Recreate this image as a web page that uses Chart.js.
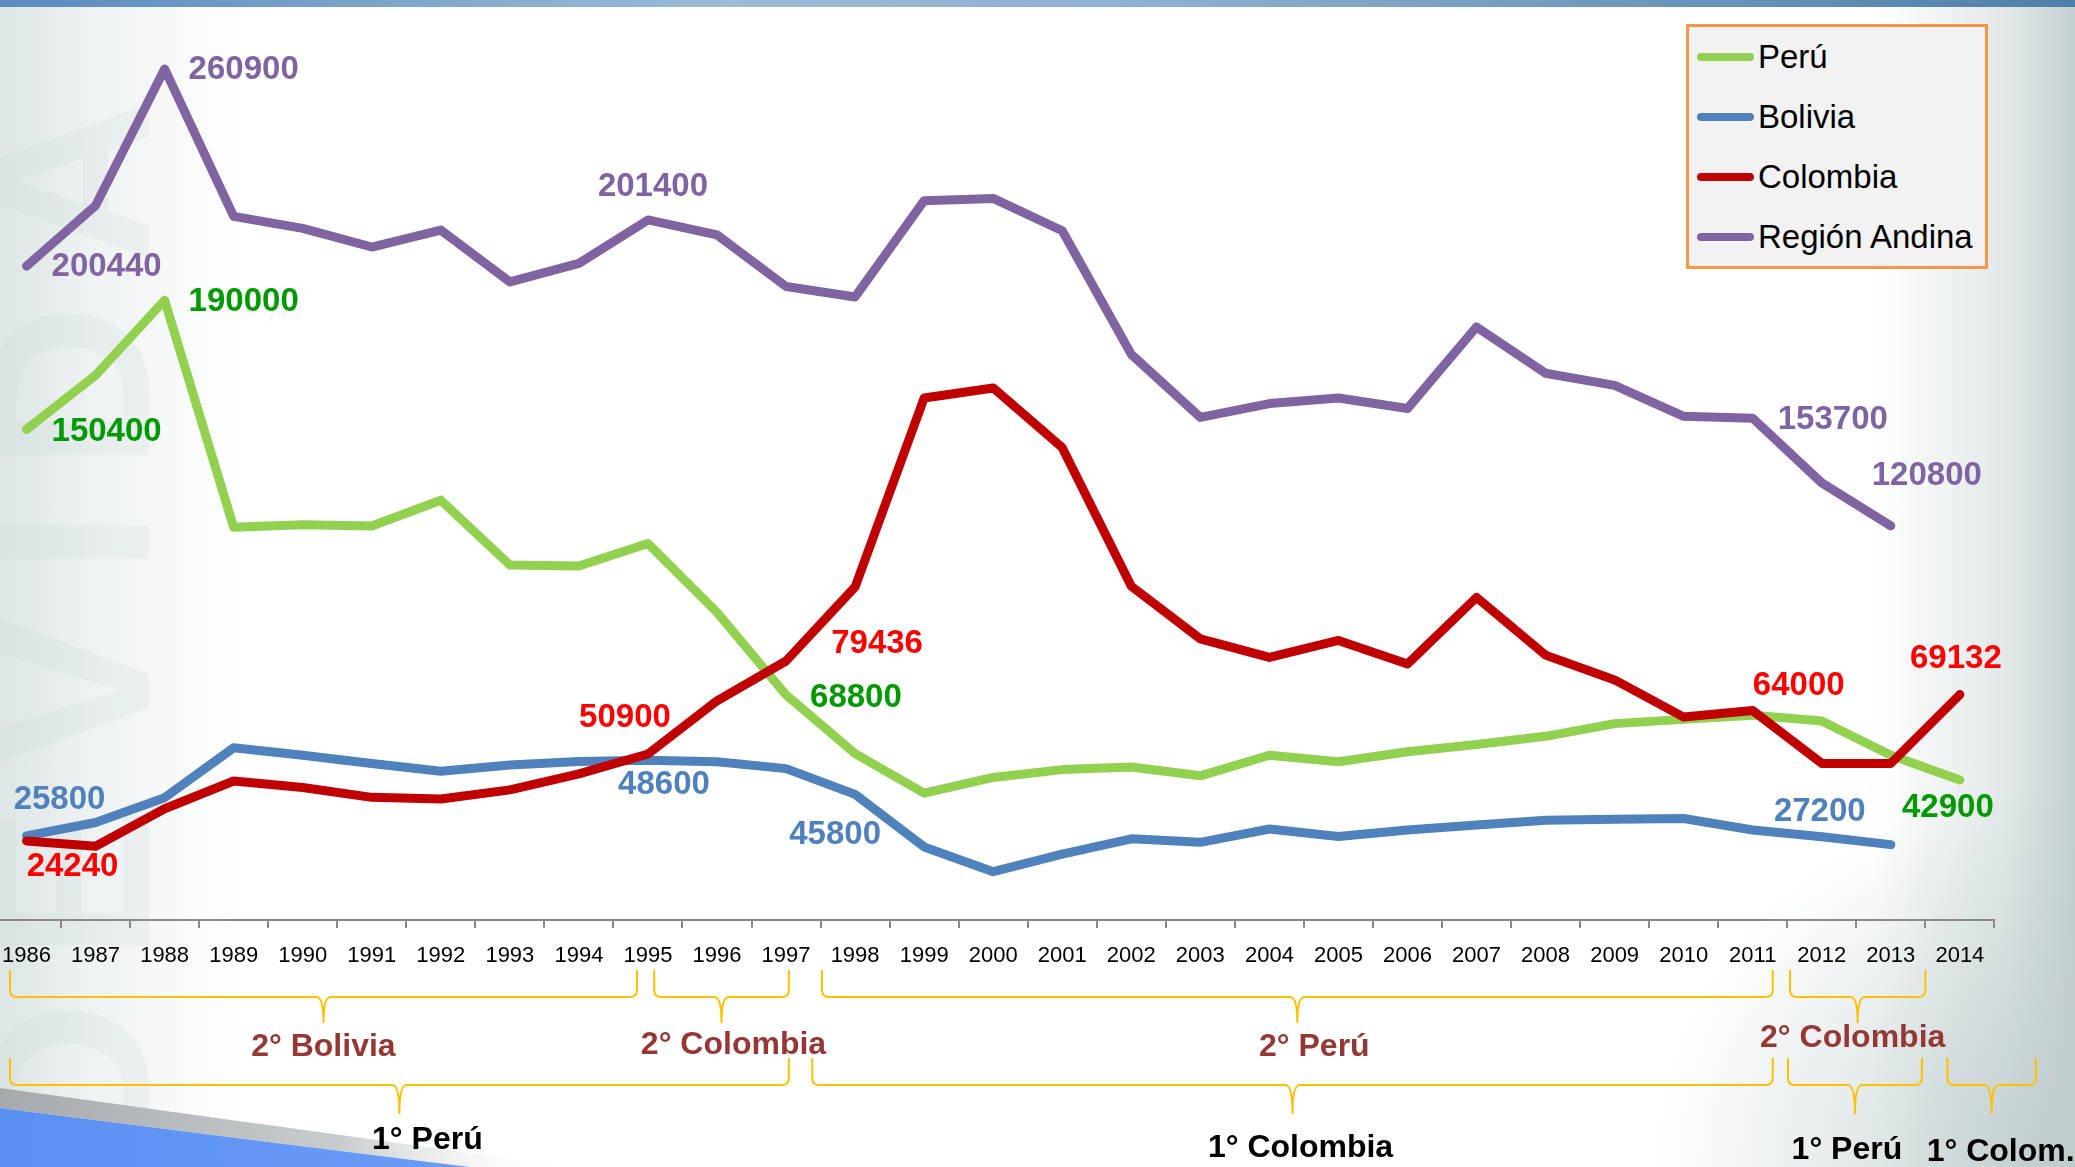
<!DOCTYPE html>
<html>
<head>
<meta charset="utf-8">
<script src="https://cdn.jsdelivr.net/npm/chart.js@4.4.1/dist/chart.umd.min.js"></script>
<style>
    html, body { margin: 0; padding: 0; }
    body {
        width: 2075px; height: 1167px; overflow: hidden; position: relative;
        background: #ffffff; font-family: "Liberation Sans", Arial, sans-serif;
    }
    .bg { position: absolute; left: 0; top: 0; width: 2075px; height: 1167px; }
    #topBar {
        position: absolute; left: 0; top: 0; width: 2075px; height: 7px;
        background: linear-gradient(to right, #5a8bbb 0%, #9bbcd8 35%, #8fb1d0 55%, #4e80aa 100%);
    }
    #watermark {
        position: absolute; left: 0; top: 0; width: 1167px; height: 200px;
        transform-origin: 0 0; transform: translate(-30px, 1167px) rotate(-90deg);
        font: bold 230px "Liberation Sans", Arial, sans-serif; letter-spacing: 40px;
        color: rgba(196, 214, 212, 0.2); line-height: 200px; white-space: nowrap;
    }
    #chartCanvas { position: absolute; left: -8px; top: 0; }
    #legend {
        position: absolute; left: 1686px; top: 24px; width: 296px; height: 239px;
        background: #f2f2f2; border: 3px solid #f79646;
    }
    .legendItem {
        height: 61px; line-height: 61px; font-size: 33px; color: #000;
        white-space: nowrap; margin-left: 8px; margin-top: -1px;
    }
    .legendLine {
        display: inline-block; width: 57px; height: 8px; border-radius: 4px;
        vertical-align: middle; margin-right: 4px; position: relative; top: -2px;
    }
</style>
</head>
<body>
<div class="bg" style="background: linear-gradient(to right, #dde5e5 0px, #eef2f2 90px, rgba(255,255,255,0) 240px);"></div>
<div class="bg" style="background: linear-gradient(to left, #c4d0d0 0px, #e2e8e8 70px, rgba(255,255,255,0) 200px);"></div>
<div class="bg" style="background: radial-gradient(ellipse 420px 380px at 2075px 1167px, rgba(190,204,204,0.9), rgba(255,255,255,0));"></div>
<div id="watermark">DEVIDA</div>
<svg class="bg" width="2075" height="1167">
    <defs>
        <linearGradient id="grayBand" x1="0" x2="1" y1="0" y2="0">
            <stop offset="0" stop-color="#a6aaad"/>
            <stop offset="0.6" stop-color="#c9cccd"/>
            <stop offset="1" stop-color="#ffffff" stop-opacity="0"/>
        </linearGradient>
        <linearGradient id="blueBand" x1="0" x2="1" y1="0" y2="0">
            <stop offset="0" stop-color="#5b8ff2"/>
            <stop offset="1" stop-color="#6a9cf6"/>
        </linearGradient>
    </defs>
    <path d="M0,1088 Q 290,1128 570,1167 L 470,1167 Q 250,1140 0,1108 Z" fill="url(#grayBand)"/>
    <path d="M0,1108 Q 250,1140 470,1167 L 0,1167 Z" fill="url(#blueBand)"/>
</svg>
<div id="topBar"></div>
<canvas id="chartCanvas" width="2083" height="1167"></canvas>
<div id="legend"></div>

<script>
const years = ['1986', '1987', '1988', '1989', '1990', '1991', '1992', '1993', '1994', '1995',
    '1996', '1997', '1998', '1999', '2000', '2001', '2002', '2003', '2004', '2005',
    '2006', '2007', '2008', '2009', '2010', '2011', '2012', '2013', '2014'];

const seriesNames = ['Perú', 'Bolivia', 'Colombia', 'Región Andina'];

const peru = [150400, 167000, 190000, 120400, 121200, 120800, 128700, 108800, 108500, 115400,
    94300, 69000, 51000, 38900, 43700, 46100, 46900, 44200, 50500, 48500,
    51600, 53800, 56300, 60200, 61500, 62800, 61000, 50500, 42900];

const bolivia = [25800, 29900, 37500, 52800, 50500, 48000, 45600, 47500, 48600, 49000,
    48500, 46400, 38500, 22400, 14800, 20200, 24900, 23800, 27900, 25600,
    27600, 29100, 30600, 30900, 31100, 27600, 25500, 23100, null];

const colombia = [24240, 22600, 34100, 42600, 40600, 37600, 37100, 39900, 44800, 50900,
    67200, 79400, 102100, 160000, 163100, 144800, 102300, 86200, 80500, 85700,
    78500, 98900, 81200, 73600, 62200, 64200, 48000, 48000, 69100];

const regionAndina = [200440, 219000, 260900, 215700, 212000, 206300, 211500, 195600, 201300, 214600,
    210000, 194200, 191000, 220500, 221200, 211300, 173400, 154100, 158300, 160000,
    156800, 181800, 167600, 163900, 154400, 153800, 134000, 120800, null];

// printed value labels: [series index, year, text]
const valueLabels = [
    [3, '1988', '260900'], [3, '1986', '200440'], [3, '1995', '201400'],
    [3, '2011', '153700'], [3, '2013', '120800'],
    [0, '1988', '190000'], [0, '1986', '150400'], [0, '1997', '68800'], [0, '2014', '42900'],
    [1, '1986', '25800'], [1, '1995', '48600'], [1, '1998', '45800'], [1, '2012', '27200'],
    [2, '1986', '24240'], [2, '1995', '50900'], [2, '1997', '79436'],
    [2, '2011', '64000'], [2, '2014', '69132']
];

// ranking periods under the axis: [from year, to year, row, text]
const periods = [
    [1985.76, 1994.84, 0, '2° Bolivia'],
    [1995.09, 1997.04, 0, '2° Colombia'],
    [1997.52, 2011.29, 0, '2° Perú'],
    [2011.54, 2013.50, 0, '2° Colombia'],
    [1985.76, 1997.04, 1, '1° Perú'],
    [1997.38, 2011.29, 1, '1° Colombia'],
    [2011.51, 2013.45, 1, '1° Perú'],
    [2013.82, 2015.10, 1, '1° Colom.']
];

const lineColors = ['#92d050', '#4f81bd', '#c00000', '#8064a2'];
const labelColors = ['#009a00', '#4f81bd', '#ff0000', '#8064a2'];

// label placement relative to its point: [dx, dy, align]
const labelOffsets = [
    [24, 1, 'left'], [25, 1, 'left'], [5, -33, 'center'], [25, 2, 'left'], [36, -50, 'center'],
    [24, 2, 'left'], [25, 3, 'left'], [24, 3, 'left'], [-12, 28, 'center'],
    [33, -36, 'center'], [16, 25, 'center'], [-20, 40, 'center'], [-2, -25, 'center'],
    [46, 26, 'center'], [-23, -36, 'center'], [91, -17, 'center'], [46, -25, 'center'], [-4, -36, 'center']
];
const periodTextShift = [[0, 0], [12, -2], [17, 0], [-5, -9], [28, -6], [8, 2], [-8, 4], [9, 6]];
const braceRows = [{ top: 970, mid: 997, tip: 1023, text: 1047 }, { top: 1058, mid: 1085, tip: 1114, text: 1146 }];

const seriesData = [peru, bolivia, colombia, regionAndina];

function drawBrace(ctx, xl, xr, row) {
    const xc = (xl + xr) / 2;
    const r = 7;
    ctx.beginPath();
    ctx.moveTo(xl, row.top);
    ctx.lineTo(xl, row.mid - r);
    ctx.quadraticCurveTo(xl, row.mid, xl + r, row.mid);
    ctx.lineTo(xc - r, row.mid);
    ctx.quadraticCurveTo(xc, row.mid, xc, row.tip);
    ctx.moveTo(xc, row.tip);
    ctx.quadraticCurveTo(xc, row.mid, xc + r, row.mid);
    ctx.lineTo(xr - r, row.mid);
    ctx.quadraticCurveTo(xr, row.mid, xr, row.mid - r);
    ctx.lineTo(xr, row.top);
    ctx.stroke();
}

const annotationPlugin = {
    id: 'annotations',
    afterDatasetsDraw(chart) {
        const ctx = chart.ctx;
        const xScale = chart.scales.x;
        ctx.save();

        // value labels
        ctx.font = 'bold 33px "Liberation Sans", Arial, sans-serif';
        ctx.textBaseline = 'middle';
        valueLabels.forEach((lbl, i) => {
            const [si, year, text] = lbl;
            const pt = chart.getDatasetMeta(si).data[years.indexOf(year)];
            const [dx, dy, align] = labelOffsets[i];
            ctx.fillStyle = labelColors[si];
            ctx.textAlign = align;
            ctx.fillText(text, pt.x + dx, pt.y + dy);
        });

        // braces and ranking texts
        ctx.strokeStyle = '#ffc000';
        ctx.lineWidth = 2;
        ctx.font = 'bold 32px "Liberation Sans", Arial, sans-serif';
        ctx.textAlign = 'center';
        periods.forEach((p, i) => {
            const [from, to, rowIdx, text] = p;
            const row = braceRows[rowIdx];
            const xl = xScale.getPixelForValue(from - 1986);
            const xr = xScale.getPixelForValue(to - 1986);
            drawBrace(ctx, xl, xr, row);
            ctx.fillStyle = rowIdx === 0 ? '#953735' : '#000000';
            ctx.fillText(text, (xl + xr) / 2 + periodTextShift[i][0], row.text + periodTextShift[i][1]);
        });
        ctx.restore();
    }
};

const datasets = seriesNames.map((name, i) => ({
    label: name,
    data: seriesData[i],
    borderColor: lineColors[i],
    backgroundColor: lineColors[i],
    borderWidth: 9,
    borderCapStyle: 'round',
    borderJoinStyle: 'round',
    pointRadius: 0,
    tension: 0,
    fill: false,
    order: 4 - i
}));

const andeanChart = new Chart(document.getElementById('chartCanvas').getContext('2d'), {
    type: 'line',
    data: {
        labels: years,
        datasets: datasets
    },
    options: {
        responsive: false,
        animation: false,
        devicePixelRatio: 1,
        clip: false,
        layout: {
            padding: { top: 6.6, left: 0, right: 80.6, bottom: 0 }
        },
        scales: {
            x: {
                offset: true,
                afterFit: (scale) => {
                    scale.height = 247;
                    scale.paddingLeft = 0;
                    scale.paddingRight = 0;
                },
                grid: {
                    offset: true,
                    drawOnChartArea: false,
                    drawTicks: true,
                    tickLength: 8,
                    color: '#8a8a8a',
                    lineWidth: 2
                },
                border: { color: '#8a8a8a', width: 2 },
                ticks: {
                    autoSkip: false,
                    maxRotation: 0,
                    padding: 15,
                    color: '#000000',
                    font: { family: '"Liberation Sans", Arial, sans-serif', size: 22 }
                }
            },
            y: {
                display: false,
                min: 0,
                max: 280000
            }
        },
        plugins: {
            legend: { display: false },
            tooltip: { enabled: false }
        }
    },
    plugins: [annotationPlugin]
});

// legend box
const legendBox = document.getElementById('legend');
seriesNames.forEach((name, i) => {
    const item = document.createElement('div');
    item.className = 'legendItem';
    const swatch = document.createElement('span');
    swatch.className = 'legendLine';
    swatch.style.background = lineColors[i];
    item.appendChild(swatch);
    item.appendChild(document.createTextNode(name));
    legendBox.appendChild(item);
});
</script>
</body>
</html>
